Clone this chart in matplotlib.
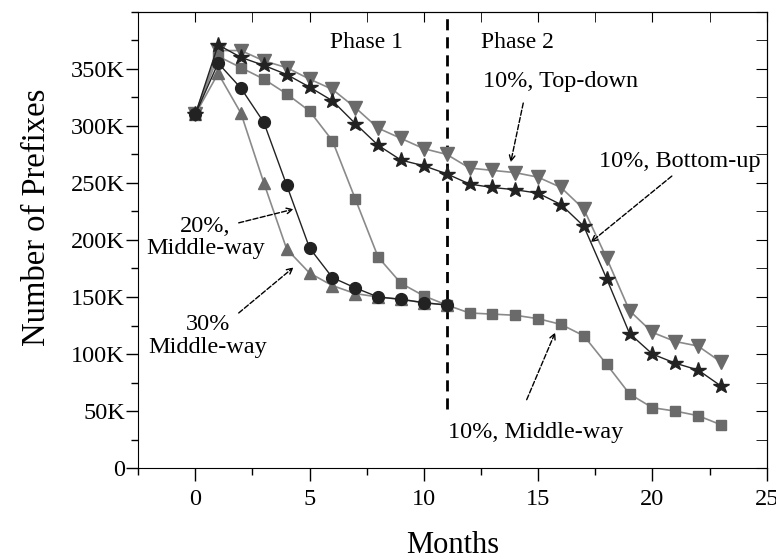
import numpy as np
import matplotlib
matplotlib.use("Agg")
import matplotlib.pyplot as plt
from matplotlib.ticker import MultipleLocator, FuncFormatter

plt.rcParams["font.family"] = ["Liberation Serif", "DejaVu Serif"]

# valores (milhares de prefixos)
meses = list(range(24))
top_down = [310, 366, 366, 357, 351, 341, 332, 316, 298, 289, 280, 275,
            263, 261, 259, 255, 246, 227, 184, 138, 119, 111, 107, 93]
bottom_up = [310, 371, 360, 353, 345, 334, 322, 302, 283, 270, 265, 258,
             249, 246, 244, 241, 231, 212, 166, 118, 100, 92, 86, 72]
mw10 = [310, 361, 351, 341, 328, 313, 287, 236, 185, 162, 151, 143,
        136, 135, 134, 131, 126, 116, 91, 65, 53, 50, 46, 38]
meses_curto = list(range(12))
mw20 = [310, 355, 333, 303, 248, 193, 167, 158, 150, 148, 145, 143]
mw30 = [310, 346, 311, 250, 192, 171, 160, 153, 150, 148, 145, 143]

cinza = "#6a6a6a"
cinza_linha = "#8a8a8a"
preto = "#222222"

fig = plt.figure(figsize=(7.76, 5.6), dpi=100)
ax = fig.add_axes([0.178, 0.164, 0.81, 0.815])

ax.plot(meses, top_down, color=cinza_linha, lw=1.2, marker="v", ms=10,
        mfc=cinza, mec=cinza, zorder=3)
ax.plot(meses, bottom_up, color=preto, lw=1.0, marker="*", ms=11.5,
        mfc=preto, mec=preto, zorder=4)
ax.plot(meses, mw10, color=cinza_linha, lw=1.2, marker="s", ms=7.5,
        mfc=cinza, mec=cinza, zorder=3)
ax.plot(meses_curto, mw20, color=preto, lw=1.0, marker="o", ms=8.5,
        mfc=preto, mec=preto, zorder=4)
ax.plot(meses_curto, mw30, color=cinza_linha, lw=1.2, marker="^", ms=9,
        mfc=cinza, mec=cinza, zorder=3)

# divisão das fases
ax.plot([11, 11], [52, 400], color="black", lw=2, ls=(0, (4, 2.5)), zorder=2)
ax.text(7.5, 373, "Phase 1", fontsize=17, ha="center", va="center")
ax.text(14.1, 373, "Phase 2", fontsize=17, ha="center", va="center")

seta = dict(arrowstyle="->", ls="--", lw=1, color="black", shrinkA=0, shrinkB=0)
ax.annotate("", xy=(13.8, 268), xytext=(14.35, 320), arrowprops=seta)
ax.text(16.0, 339, "10%, Top-down", fontsize=17.5, ha="center", va="center")
ax.annotate("", xy=(17.3, 198), xytext=(20.85, 256), arrowprops=seta)
ax.text(21.2, 269, "10%, Bottom-up", fontsize=17.5, ha="center", va="center")
ax.annotate("", xy=(4.3, 227), xytext=(1.9, 215), arrowprops=seta)
ax.text(0.45, 202, "20%,\nMiddle-way", fontsize=17.5, ha="center", va="center",
        multialignment="center", linespacing=1.1)
ax.annotate("", xy=(4.3, 176), xytext=(1.9, 136), arrowprops=seta)
ax.text(0.55, 116, "30%\nMiddle-way", fontsize=17.5, ha="center", va="center",
        multialignment="center", linespacing=1.1)
ax.annotate("", xy=(15.75, 119), xytext=(14.5, 60), arrowprops=seta)
ax.text(14.9, 31, "10%, Middle-way", fontsize=17.5, ha="center", va="center")

ax.set_xlim(-2.5, 25)
ax.set_ylim(0, 400)
ax.xaxis.set_major_locator(MultipleLocator(5))
ax.xaxis.set_minor_locator(MultipleLocator(2.5))
ax.yaxis.set_major_locator(MultipleLocator(50))
ax.yaxis.set_minor_locator(MultipleLocator(25))
ax.yaxis.set_major_formatter(FuncFormatter(lambda v, p: "0" if v == 0 else f"{int(v)}K"))
ax.set_yticks([0, 50, 100, 150, 200, 250, 300, 350])
ax.tick_params(which="major", direction="out", length=9, width=1, labelsize=17.5)
ax.tick_params(which="minor", direction="out", length=5, width=1)
ax.tick_params(axis="y", which="major", pad=0.5)
ax.tick_params(axis="x", which="major", pad=6)

# eixos de cima e da direita com marcas para dentro
topo = ax.secondary_xaxis("top")
topo.xaxis.set_major_locator(MultipleLocator(5))
topo.xaxis.set_minor_locator(MultipleLocator(2.5))
topo.tick_params(which="both", direction="in", length=7, labeltop=False)
direita = ax.secondary_yaxis("right")
direita.yaxis.set_major_locator(MultipleLocator(50))
direita.yaxis.set_minor_locator(MultipleLocator(25))
direita.tick_params(which="both", direction="in", length=8, labelright=False)

ax.set_xlabel("Months", fontsize=22, labelpad=15)
ax.set_ylabel("Number of Prefixes", fontsize=23.5)
ax.yaxis.set_label_coords(-0.137, 0.55)

fig.savefig("out.png", dpi=100)
